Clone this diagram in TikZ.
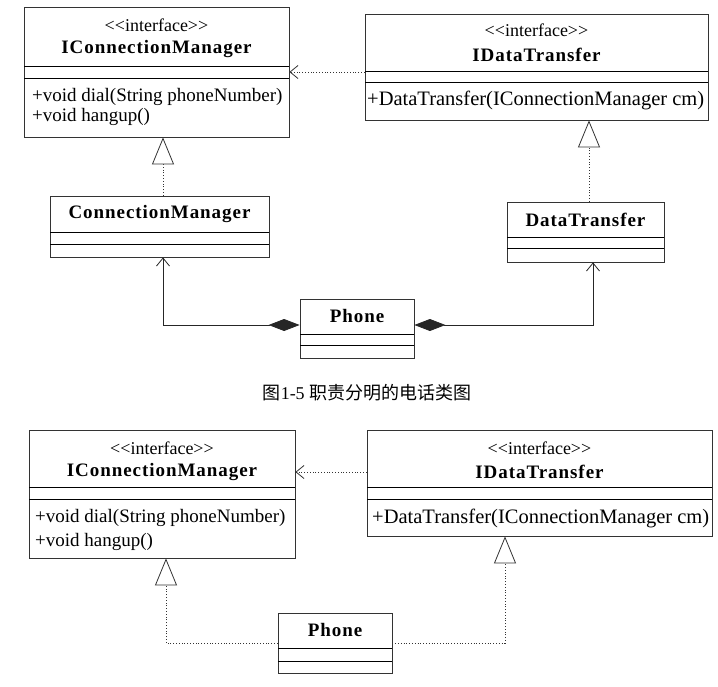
\documentclass[tikz,border=0pt]{standalone}
\usepackage{fontspec}
\setmainfont{Liberation Serif}
\newfontfamily\cjk{Noto Sans CJK SC}
\newfontfamily\clsfont[LetterSpace=5]{Liberation Serif}
\usepackage{tikz}
\usetikzlibrary{arrows.meta,positioning}
\newcommand{\stereotxt}{<\kern0pt<interface>\kern0pt>}

\begin{document}
\begin{tikzpicture}[x=1pt,y=-1pt,
                    box/.style={draw=black!80, line width=0.8pt, inner sep=0pt},
                    sep/.style={line width=0.8pt, black},
                    stereo/.style={font=\fontsize{18}{20}\selectfont, inner sep=0pt},
                    title/.style={font=\fontsize{19}{22}\selectfont\clsfont\bfseries, inner sep=0pt},
                    member/.style={font=\fontsize{19}{22}\selectfont, inner sep=0pt, anchor=west},
                    widemember/.style={member, font=\fontsize{20.5}{22}\selectfont},
                    realize/.style={dotted, line width=0.8pt, black!80, -{Triangle[open,length=27pt,width=22pt,fill=white]}},
                    depend/.style={dotted, line width=0.8pt, black!80, -{Straight Barb[length=8pt,width=13pt]}},
                    compose/.style={line width=0.8pt, black!85, {Diamond[length=31pt,width=12pt]}-{Straight Barb[length=8pt,width=13pt]}},
                   ]

\useasboundingbox (0,0) rectangle (718,686);

% top: responsibilities split
\node[box, minimum width=265pt, minimum height=130pt] (icm1) at (156.5,72) {};
\draw[sep] (24,66) -- (289,66);
\draw[sep] (24,78) -- (289,78);
\node[stereo] (icm1s) at (156.5,25) {\stereotxt};
\node[title] (icm1t) at (156.5,49) {IConnectionManager};
\node[member] (icm1a) at (32,97) {+void dial(String phoneNumber)};
\node[member] (icm1b) at (32,117) {+void hangup()};

\node[box, minimum width=343pt, minimum height=106pt] (idt1) at (536.5,67) {};
\draw[sep] (365,71) -- (708,71);
\draw[sep] (365,82) -- (708,82);
\node[stereo] (idt1s) at (536.5,30) {\stereotxt};
\node[title] (idt1t) at (536.5,55) {IDataTransfer};
\node[widemember] (idt1a) at (367,100) {+DataTransfer(IConnectionManager cm)};

\node[box, minimum width=219pt, minimum height=61pt] (cm1) at (159.5,226.5) {};
\draw[sep] (50,232) -- (269,232);
\draw[sep] (50,244) -- (269,244);
\node[title] (cm1t) at (159.5,214) {ConnectionManager};

\node[box, minimum width=157pt, minimum height=60pt] (dt1) at (585.5,232) {};
\draw[sep] (507,237) -- (664,237);
\draw[sep] (507,248) -- (664,248);
\node[title] (dt1t) at (585.5,220) {DataTransfer};

\node[box, minimum width=114pt, minimum height=59pt] (p1) at (357,328.5) {};
\draw[sep] (300,334) -- (414,334);
\draw[sep] (300,345) -- (414,345);
\node[title] (p1t) at (357,316) {Phone};

\draw[depend] (idt1.west |- icm1.east) -- (icm1.east);
\draw[realize] ([xshift=3.5pt]cm1.north) -- ([xshift=3.5pt]cm1.north |- icm1.south);
\draw[realize] ([xshift=3.5pt]dt1.north) -- ([xshift=3.5pt]dt1.north |- idt1.south);
\draw[compose] ([yshift=3.5pt]p1.west) -| ([xshift=3.5pt]cm1.south);
\draw[compose] ([yshift=3.5pt]p1.east) -| ([xshift=7.5pt]dt1.south);

\node[font=\fontsize{18}{20}\selectfont] (cap) at (367,393) {{\cjk 图}1-5 {\cjk 职责分明的电话类图}};

% bottom: Phone realizes both
\node[box, minimum width=266pt, minimum height=128pt] (icm2) at (162,494) {};
\draw[sep] (29,487) -- (295,487);
\draw[sep] (29,499) -- (295,499);
\node[stereo] (icm2s) at (162,448) {\stereotxt};
\node[title] (icm2t) at (162,472) {IConnectionManager};
\node[member] (icm2a) at (35,518) {+void dial(String phoneNumber)};
\node[member] (icm2b) at (35,542) {+void hangup()};

\node[box, minimum width=345pt, minimum height=106pt] (idt2) at (539.5,483) {};
\draw[sep] (367,487) -- (712,487);
\draw[sep] (367,499) -- (712,499);
\node[stereo] (idt2s) at (539.5,448) {\stereotxt};
\node[title] (idt2t) at (539.5,472) {IDataTransfer};
\node[widemember] (idt2a) at (372,518) {+DataTransfer(IConnectionManager cm)};

\node[box, minimum width=114pt, minimum height=60pt] (p2) at (335,643) {};
\draw[sep] (278,648) -- (392,648);
\draw[sep] (278,661) -- (392,661);
\node[title] (p2t) at (335,630) {Phone};

\draw[depend] ([yshift=11pt]idt2.west) -- ([yshift=11pt]idt2.west -| icm2.east);
\draw[realize] (p2.west) -| ([xshift=4pt]icm2.south);
\draw[realize] (p2.east) -| ([xshift=-34.5pt]idt2.south);

\end{tikzpicture}
\end{document}
